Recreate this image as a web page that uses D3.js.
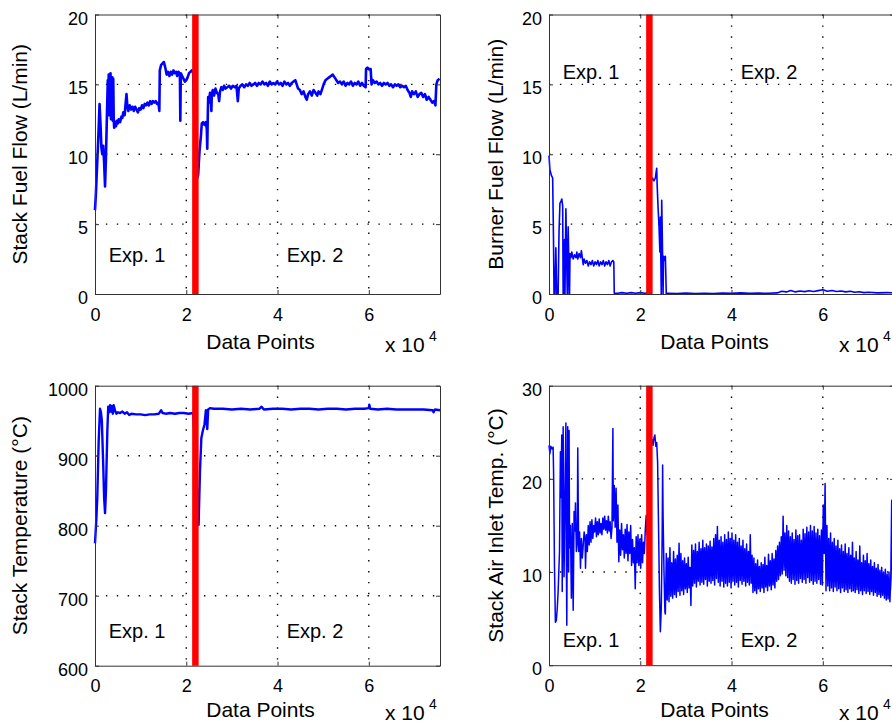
<!DOCTYPE html>
<html>
<head>
<meta charset="utf-8">
<script src="https://cdnjs.cloudflare.com/ajax/libs/d3/7.8.5/d3.min.js"></script>
<style>
body{margin:0;background:#fff;}
svg{display:block;}
text{font-family:"Liberation Sans",Arial,Helvetica,sans-serif;fill:#000;}
</style>
</head>
<body>
<svg id="fig" width="892" height="725"></svg>
<script>
// x values are in units of 10^4 data points
var xTicks=[0,2,4,6];
var xMax=7.56;
var splitAt=2.2;	// end of exp. 1 (red bar)

var fuelTicks=[0,5,10,15,20];
var tempTicks=[600,700,800,900,1000];
var airTicks=[0,10,20,30];

var expNames=["Exp. 1","Exp. 2"];
var expX=[0.3,4.2];

// stack fuel flow (L/min)
var stackFuel=[[0,6.0],[0.02,7.2],[0.05,9.5],[0.08,11.8],[0.1,13.6],[0.12,12.2],[0.14,10.5],[0.16,10.0],[0.18,10.6],[0.2,9.4],[0.22,7.7],[0.24,9.8],[0.26,12.6],[0.28,15.3],[0.29,13.0],[0.3,15.7],[0.31,12.8],[0.32,14.9],[0.33,13.1],[0.34,15.8],[0.35,12.5],[0.36,14.6],[0.37,12.9],[0.38,15.5],[0.39,12.4],[0.4,15.4],[0.41,12.6],[0.42,11.9],[0.44,12.3],[0.46,12.0],[0.48,12.4],[0.5,12.2],[0.52,12.5],[0.55,12.3],[0.58,12.7],[0.6,12.6],[0.62,13.0],[0.65,12.8],[0.67,13.6],[0.69,14.3],[0.71,13.4],[0.73,13.1],[0.76,13.5],[0.79,13.2],[0.82,13.4],[0.85,13.1],[0.88,13.4],[0.91,13.2],[0.94,13.0],[0.97,13.3],[1.0,13.2],[1.03,13.5],[1.06,13.3],[1.09,13.6],[1.12,13.5],[1.15,13.7],[1.18,13.5],[1.21,13.8],[1.24,13.6],[1.27,13.8],[1.3,13.7],[1.33,13.8],[1.36,13.6],[1.39,13.7],[1.41,13.1],[1.42,16.0],[1.45,16.4],[1.48,16.5],[1.51,16.6],[1.54,16.2],[1.57,15.7],[1.6,15.9],[1.63,15.6],[1.66,15.9],[1.69,15.7],[1.72,16.0],[1.75,15.8],[1.78,15.9],[1.8,15.6],[1.83,15.9],[1.86,15.7],[1.87,12.4],[1.88,15.8],[1.91,15.6],[1.94,15.4],[1.97,15.2],[2.0,15.3],[2.03,15.5],[2.06,15.8],[2.09,15.9],[2.12,16.0],[2.15,15.9],[2.18,12.0],[2.22,8.1],[2.26,8.5],[2.29,10.2],[2.32,11.3],[2.34,12.2],[2.37,12.3],[2.4,12.1],[2.43,12.3],[2.45,11.8],[2.46,10.4],[2.47,12.5],[2.48,14.1],[2.5,13.7],[2.52,14.4],[2.54,14.0],[2.55,13.1],[2.56,14.3],[2.58,14.6],[2.61,14.2],[2.64,14.7],[2.67,14.4],[2.7,14.3],[2.72,13.8],[2.74,14.5],[2.77,14.8],[2.8,14.6],[2.83,14.9],[2.86,14.7],[2.9,14.8],[2.94,14.9],[2.98,14.7],[3.02,14.9],[3.06,14.8],[3.1,14.9],[3.13,13.8],[3.15,14.7],[3.19,14.9],[3.23,15.0],[3.27,14.8],[3.31,15.0],[3.35,14.9],[3.39,15.1],[3.43,14.9],[3.47,15.0],[3.51,15.1],[3.55,14.9],[3.59,15.1],[3.63,15.0],[3.67,15.2],[3.71,15.0],[3.75,15.1],[3.79,14.9],[3.83,15.2],[3.87,15.0],[3.91,15.1],[3.95,15.0],[3.99,15.2],[4.03,15.0],[4.07,15.1],[4.11,14.9],[4.15,15.2],[4.19,15.0],[4.23,15.1],[4.27,14.9],[4.31,15.1],[4.35,15.2],[4.39,15.3],[4.42,15.0],[4.45,14.7],[4.49,14.6],[4.53,14.3],[4.57,14.5],[4.61,14.1],[4.64,13.9],[4.67,14.3],[4.71,14.5],[4.75,14.2],[4.79,14.6],[4.83,14.4],[4.87,14.2],[4.9,14.5],[4.94,14.3],[4.98,14.7],[5.01,15.0],[5.05,15.3],[5.09,15.4],[5.13,15.5],[5.17,15.6],[5.21,15.7],[5.25,15.5],[5.29,15.3],[5.33,15.1],[5.37,15.2],[5.41,15.0],[5.45,15.2],[5.49,14.9],[5.53,15.1],[5.57,15.0],[5.61,15.2],[5.65,14.9],[5.69,15.1],[5.73,15.0],[5.77,15.2],[5.81,14.9],[5.85,15.1],[5.89,14.9],[5.93,14.8],[5.94,16.1],[5.97,16.2],[6.0,16.1],[6.04,16.1],[6.06,15.0],[6.09,15.3],[6.13,15.1],[6.17,15.2],[6.21,15.0],[6.25,15.1],[6.29,14.9],[6.33,15.1],[6.37,15.0],[6.41,15.1],[6.45,14.9],[6.49,15.0],[6.53,14.8],[6.57,15.0],[6.61,14.9],[6.65,15.0],[6.69,14.8],[6.73,14.9],[6.77,14.8],[6.81,14.9],[6.85,14.6],[6.89,14.4],[6.92,14.1],[6.95,14.5],[6.99,14.3],[7.03,14.5],[7.07,14.1],[7.11,14.3],[7.15,14.4],[7.19,14.1],[7.23,14.3],[7.27,13.9],[7.31,14.1],[7.35,13.9],[7.39,13.7],[7.43,13.8],[7.46,13.5],[7.48,15.0],[7.51,15.3],[7.55,15.4]];

// burner fuel flow (L/min)
var burnerFuel=[[0,9.9],[0.02,8.9],[0.05,8.5],[0.08,8.3],[0.09,6.0],[0.1,3.5],[0.11,0],[0.13,0],[0.15,3.3],[0.17,0],[0.2,0],[0.22,4.5],[0.24,6.5],[0.26,6.6],[0.28,6.8],[0.3,6.3],[0.31,0],[0.33,0],[0.34,3.9],[0.35,0],[0.37,6.1],[0.39,2.0],[0.4,0],[0.42,4.8],[0.43,3.0],[0.44,0],[0.45,0],[0.46,2.9],[0.48,2.6],[0.5,3.0],[0.53,2.5],[0.56,2.8],[0.59,2.6],[0.61,3.0],[0.63,2.5],[0.66,2.9],[0.69,2.6],[0.71,3.1],[0.73,2.6],[0.75,2.1],[0.77,2.5],[0.8,2.2],[0.83,2.4],[0.86,2.0],[0.89,2.3],[0.92,2.1],[0.95,2.4],[0.98,2.0],[1.01,2.3],[1.04,2.1],[1.07,2.4],[1.1,2.0],[1.13,2.3],[1.16,2.1],[1.19,2.4],[1.22,2.0],[1.25,2.3],[1.28,2.1],[1.31,2.4],[1.34,2.0],[1.37,2.3],[1.4,2.4],[1.42,2.3],[1.43,0.05],[1.5,0.05],[1.6,0.1],[1.7,0.05],[1.8,0.1],[1.9,0.05],[2.0,0.1],[2.1,0.05],[2.2,0.1],[2.24,8.1],[2.27,8.3],[2.3,8.1],[2.33,8.3],[2.36,9.0],[2.37,7.8],[2.39,6.2],[2.41,4.9],[2.43,3.0],[2.44,5.5],[2.46,0],[2.47,6.7],[2.49,2.6],[2.5,0],[2.51,2.7],[2.53,2.4],[2.55,2.7],[2.57,0],[2.6,0.05],[2.8,0.03],[3.0,0.06],[3.2,0.03],[3.4,0.05],[3.6,0.04],[3.8,0.07],[4.0,0.05],[4.2,0.08],[4.4,0.05],[4.6,0.06],[4.8,0.05],[5.0,0.08],[5.1,0.2],[5.2,0.15],[5.3,0.25],[5.4,0.15],[5.5,0.22],[5.6,0.17],[5.7,0.23],[5.8,0.18],[5.9,0.24],[6.0,0.3],[6.1,0.2],[6.2,0.25],[6.3,0.18],[6.4,0.22],[6.5,0.15],[6.6,0.2],[6.7,0.12],[6.8,0.16],[6.9,0.1],[7.0,0.12],[7.2,0.08],[7.4,0.1],[7.56,0.08]];

// stack temperature (°C)
var stackTemp=[[0,775],[0.03,810],[0.05,840],[0.08,920],[0.11,967],[0.13,962],[0.15,950],[0.18,887],[0.2,840],[0.22,818],[0.24,850],[0.27,935],[0.29,970],[0.31,962],[0.33,972],[0.35,963],[0.37,971],[0.39,960],[0.41,972],[0.44,964],[0.47,960],[0.5,962],[0.55,961],[0.6,963],[0.65,960],[0.7,962],[0.75,958],[0.8,960],[0.9,959],[1.0,959],[1.1,958],[1.2,959],[1.3,959],[1.4,960],[1.45,965],[1.48,961],[1.55,960],[1.65,961],[1.75,960],[1.85,961],[1.95,961],[2.05,960],[2.15,961],[2.2,900],[2.27,801],[2.3,877],[2.33,925],[2.36,935],[2.4,945],[2.43,965],[2.46,938],[2.48,966],[2.52,968],[2.6,967],[2.8,967],[3.0,966],[3.2,967],[3.4,966],[3.6,967],[3.65,970],[3.7,966],[3.9,967],[4.1,967],[4.3,966],[4.5,967],[4.7,967],[4.9,966],[5.1,967],[5.3,967],[5.5,966],[5.7,967],[5.9,967],[6.0,968],[6.01,973],[6.03,967],[6.2,966],[6.4,967],[6.6,966],[6.8,966],[7.0,966],[7.2,966],[7.4,965],[7.42,962],[7.45,966],[7.56,965]];

// stack air inlet temperature (°C)
var airInlet=[[0,23.6],[0.02,22.7],[0.04,23.5],[0.07,23.2],[0.09,23.4],[0.1,20.9],[0.12,10.7],[0.14,4.6],[0.16,4.8],[0.18,6.0],[0.2,7.9],[0.23,12.2],[0.25,22.9],[0.26,18.0],[0.28,24.7],[0.29,7.9],[0.31,25.6],[0.33,9.5],[0.35,17.9],[0.37,26.0],[0.38,12.0],[0.39,4.3],[0.41,25.6],[0.43,10.0],[0.44,25.2],[0.45,12.6],[0.47,15.0],[0.49,7.2],[0.51,15.2],[0.53,5.9],[0.55,16.5],[0.57,14.4],[0.58,17.4],[0.6,12.2],[0.62,13.2],[0.63,23.3],[0.65,12.2],[0.67,14.3],[0.69,10.4],[0.71,13.6],[0.73,11.5],[0.75,12.9],[0.77,14.3],[0.79,13.6],[0.8,10.4],[0.82,14.0],[0.84,12.2],[0.86,15.0],[0.88,12.9],[0.9,15.4],[0.92,13.2],[0.94,15.6],[0.96,13.6],[0.98,15.0],[1.0,14.3],[1.02,15.8],[1.04,13.8],[1.06,15.4],[1.08,14.0],[1.1,15.7],[1.12,14.2],[1.14,15.2],[1.16,14.0],[1.18,15.8],[1.2,14.6],[1.22,16.0],[1.24,14.5],[1.26,15.5],[1.28,14.2],[1.3,16.0],[1.32,14.4],[1.34,15.4],[1.36,13.6],[1.38,14.8],[1.4,25.4],[1.41,15.5],[1.43,19.3],[1.45,14.8],[1.47,19.0],[1.49,13.2],[1.51,17.2],[1.53,11.1],[1.55,14.5],[1.57,11.8],[1.59,15.2],[1.61,12.4],[1.63,14.0],[1.65,11.5],[1.67,14.6],[1.69,12.0],[1.71,15.1],[1.73,11.2],[1.75,14.3],[1.77,12.0],[1.79,15.0],[1.81,10.7],[1.83,13.5],[1.85,11.0],[1.87,12.6],[1.89,8.2],[1.91,13.8],[1.93,11.0],[1.95,14.0],[1.97,10.7],[1.99,13.5],[2.01,10.4],[2.03,14.0],[2.05,11.0],[2.07,13.2],[2.09,12.0],[2.11,14.5],[2.13,16.1],[2.15,14.0],[2.2,15.0],[2.24,23.8],[2.26,24.2],[2.28,23.6],[2.3,24.4],[2.32,24.7],[2.34,23.5],[2.36,23.9],[2.38,21.8],[2.4,15.0],[2.42,8.0],[2.44,3.6],[2.46,6.0],[2.48,14.0],[2.49,21.5],[2.5,16.0],[2.52,10.0],[2.54,5.7],[2.55,5.5],[2.57,12.0],[2.59,7.0],[2.61,11.5],[2.63,6.8],[2.65,12.6],[2.67,7.4],[2.69,11.0],[2.71,7.2],[2.73,12.2],[2.75,7.6],[2.77,11.4],[2.79,7.3],[2.81,11.8],[2.83,7.9],[2.85,13.1],[2.87,7.5],[2.89,12.0],[2.91,8.0],[2.93,11.2],[2.95,7.6],[2.97,11.5],[2.99,8.2],[3.01,10.9],[3.03,7.8],[3.05,11.6],[3.07,8.3],[3.09,10.5],[3.11,6.4],[3.13,12.9],[3.15,8.5],[3.17,12.3],[3.19,8.8],[3.21,13.0],[3.23,8.4],[3.25,12.2],[3.27,9.0],[3.29,13.2],[3.31,8.6],[3.33,12.5],[3.35,8.9],[3.37,13.4],[3.39,8.7],[3.41,12.6],[3.43,9.2],[3.45,13.0],[3.47,8.5],[3.49,12.8],[3.51,9.0],[3.53,13.3],[3.55,8.8],[3.57,12.7],[3.59,9.1],[3.61,13.6],[3.63,8.6],[3.65,14.0],[3.67,9.3],[3.69,14.9],[3.71,8.9],[3.73,13.4],[3.75,8.5],[3.77,13.8],[3.79,9.0],[3.81,13.2],[3.83,8.4],[3.85,14.0],[3.87,8.8],[3.89,13.5],[3.91,8.5],[3.93,14.3],[3.95,8.9],[3.97,13.6],[3.99,8.3],[4.01,14.2],[4.03,9.0],[4.05,13.4],[4.07,8.6],[4.09,14.0],[4.11,8.9],[4.13,13.2],[4.15,8.4],[4.17,13.6],[4.19,9.1],[4.21,12.8],[4.23,8.7],[4.25,13.4],[4.27,9.0],[4.29,12.5],[4.31,8.5],[4.33,13.0],[4.35,8.9],[4.37,12.2],[4.39,8.6],[4.41,14.0],[4.43,8.8],[4.45,11.8],[4.47,7.8],[4.49,11.5],[4.51,8.0],[4.53,10.9],[4.55,7.7],[4.57,11.3],[4.59,8.2],[4.61,10.6],[4.63,7.9],[4.65,11.0],[4.67,8.3],[4.69,10.8],[4.71,7.8],[4.73,11.6],[4.75,8.4],[4.77,10.7],[4.79,8.0],[4.81,11.9],[4.83,8.5],[4.85,11.2],[4.87,8.1],[4.89,12.0],[4.91,8.6],[4.93,11.4],[4.95,8.3],[4.97,12.3],[4.99,9.0],[5.01,12.8],[5.03,9.2],[5.05,13.2],[5.07,9.6],[5.09,13.8],[5.11,9.8],[5.13,16.0],[5.15,10.2],[5.17,14.2],[5.19,9.6],[5.21,15.0],[5.23,9.4],[5.25,14.4],[5.27,9.0],[5.29,13.8],[5.31,8.8],[5.33,14.2],[5.35,9.2],[5.37,13.5],[5.39,8.7],[5.41,14.5],[5.43,9.1],[5.45,13.9],[5.47,8.8],[5.49,14.0],[5.51,9.3],[5.53,13.4],[5.55,8.9],[5.57,14.6],[5.59,9.2],[5.61,14.1],[5.63,8.8],[5.65,14.8],[5.67,9.4],[5.69,14.3],[5.71,8.9],[5.73,15.0],[5.75,9.1],[5.77,14.4],[5.79,8.7],[5.81,14.9],[5.83,9.0],[5.85,14.2],[5.87,8.8],[5.89,14.6],[5.91,9.2],[5.93,13.9],[5.95,8.7],[5.97,14.5],[5.99,8.6],[6.01,17.2],[6.03,12.0],[6.05,19.5],[6.07,8.0],[6.09,15.0],[6.11,8.5],[6.13,13.6],[6.15,8.0],[6.17,14.2],[6.19,8.3],[6.21,13.2],[6.23,7.9],[6.25,13.6],[6.27,8.4],[6.29,12.8],[6.31,8.0],[6.33,13.4],[6.35,8.2],[6.37,12.5],[6.39,7.8],[6.41,12.9],[6.43,8.3],[6.45,12.2],[6.47,7.9],[6.49,13.0],[6.51,8.1],[6.53,12.0],[6.55,7.8],[6.57,12.6],[6.59,8.2],[6.61,11.8],[6.63,7.9],[6.65,13.2],[6.67,8.0],[6.69,11.5],[6.71,7.8],[6.73,12.2],[6.75,8.1],[6.77,11.3],[6.79,7.7],[6.81,12.8],[6.83,8.0],[6.85,11.0],[6.87,7.6],[6.89,11.8],[6.91,8.0],[6.93,11.2],[6.95,7.7],[6.97,12.0],[6.99,7.9],[7.01,10.9],[7.03,7.6],[7.05,11.3],[7.07,7.9],[7.09,10.6],[7.11,7.5],[7.13,11.0],[7.15,7.8],[7.17,10.4],[7.19,7.4],[7.21,10.8],[7.23,7.6],[7.25,10.2],[7.27,7.3],[7.29,10.5],[7.31,7.5],[7.33,10.0],[7.35,7.2],[7.37,10.3],[7.39,7.0],[7.41,9.8],[7.43,7.1],[7.45,10.0],[7.47,6.8],[7.49,9.5],[7.51,17.7],[7.53,8.0],[7.56,9.0]];

// one entry per sub plot
var panels=[
	{data:stackFuel,yDomain:[0,20],yTicks:fuelTicks,label:"Stack Fuel Flow (L/min)",expY:2.3,left:95,top:14.5,h:279.5,labelX:26.5,lw:2.6,capY:351.7},
	{data:burnerFuel,yDomain:[0,20],yTicks:fuelTicks,label:"Burner Fuel Flow (L/min)",expY:15.4,left:549,top:14.5,h:279.5,labelX:503,lw:1.6,capY:351.7},
	{data:stackTemp,yDomain:[600,1000],yTicks:tempTicks,label:"Stack Temperature (°C)",expY:640,left:95,top:385.7,h:280,labelX:27,lw:2.4,capY:719.5},
	{data:airInlet,yDomain:[0,30],yTicks:airTicks,label:"Stack Air Inlet Temp. (°C)",expY:2.0,left:549,top:385.7,h:279.5,labelX:503,lw:1.5,capY:719.5}
];

var svg=d3.select("#fig");
var W=345;

panels.forEach(function(p){
	var bottom=p.top+p.h;
	var x=d3.scaleLinear().domain([0,xMax]).range([p.left,p.left+W]);
	var y=d3.scaleLinear().domain(p.yDomain).range([bottom,p.top]);
	var g=svg.append("g");

	// dotted grid
	g.selectAll(".vgrid").data(xTicks.slice(1)).enter().append("line")
	.attr("x1",function(d){return x(d);}).attr("x2",function(d){return x(d);})
	.attr("y1",p.top).attr("y2",bottom)
	.attr("stroke","#000").attr("stroke-width",1.4).attr("stroke-dasharray","1.4,9.5");
	g.selectAll(".hgrid").data(p.yTicks.slice(1,-1)).enter().append("line")
	.attr("y1",function(d){return y(d);}).attr("y2",function(d){return y(d);})
	.attr("x1",p.left).attr("x2",p.left+W)
	.attr("stroke","#000").attr("stroke-width",1.4).attr("stroke-dasharray","1.4,9.5");

	// data line
	var line=d3.line().x(function(d){return x(d[0]);}).y(function(d){return y(d[1]);});
	g.append("path").datum(p.data)
	.attr("d",line)
	.attr("fill","none")
	.attr("stroke","#0000ff")
	.attr("stroke-width",p.lw)
	.attr("stroke-linejoin","round");

	// red bar between exp. 1 and exp. 2
	g.append("line")
	.attr("x1",x(splitAt)).attr("x2",x(splitAt))
	.attr("y1",p.top).attr("y2",bottom)
	.attr("stroke","#ff0000").attr("stroke-width",6.5);

	// axes with inner ticks on all four sides
	var ax=g.append("g").attr("transform","translate(0,"+bottom+")")
	.call(d3.axisBottom(x).tickValues(xTicks).tickFormat(d3.format("d")).tickSize(-4).tickSizeOuter(0).tickPadding(14));
	ax.selectAll("text").style("font-size","18px");
	g.append("g").attr("transform","translate(0,"+p.top+")")
	.call(d3.axisTop(x).tickValues(xTicks).tickFormat("").tickSize(-4).tickSizeOuter(0));
	var ay=g.append("g").attr("transform","translate("+p.left+",0)")
	.call(d3.axisLeft(y).tickValues(p.yTicks).tickFormat(d3.format("d")).tickSize(-4).tickSizeOuter(0).tickPadding(7));
	ay.selectAll("text").style("font-size","18px").attr("dy","0.53em");
	g.append("g").attr("transform","translate("+(p.left+W)+",0)")
	.call(d3.axisRight(y).tickValues(p.yTicks).tickFormat("").tickSize(-4).tickSizeOuter(0));
	g.selectAll(".domain").attr("stroke","#333");
	g.selectAll(".tick line").attr("stroke","#333");

	// experiment labels
	expNames.forEach(function(t,i){
		g.append("text").attr("x",x(expX[i])).attr("y",y(p.expY))
		.style("font-size","20px").text(t);
	});

	// axis titles
	g.append("text").attr("x",p.left+W/2-7).attr("y",p.capY-3)
	.attr("text-anchor","middle").style("font-size","21px").text("Data Points");
	g.append("text").attr("x",p.left+290).attr("y",p.capY)
	.style("font-size","21px").text("x 10");
	g.append("text").attr("x",p.left+334).attr("y",p.capY-11)
	.style("font-size","14px").text("4");
	g.append("text")
	.attr("transform","translate("+p.labelX+","+(p.top+p.h/2)+") rotate(-90)")
	.attr("text-anchor","middle").style("font-size","21px").text(p.label);
});
</script>
</body>
</html>
